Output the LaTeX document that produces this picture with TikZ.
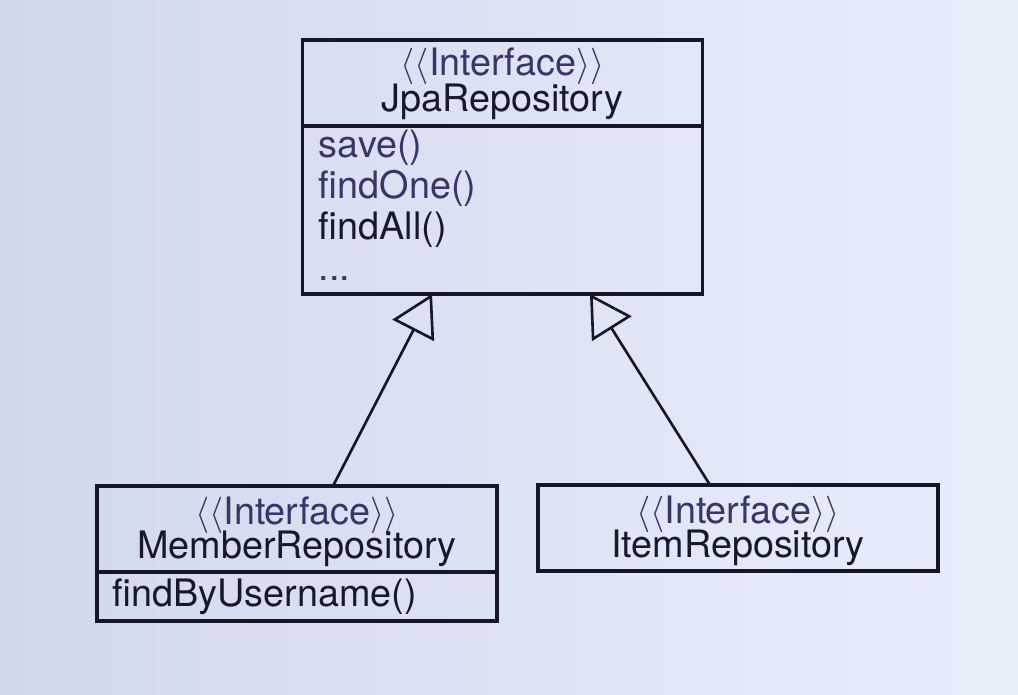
\documentclass[tikz,border=0pt]{standalone}
\usepackage{fontspec}
\setmainfont{TeX Gyre Heros}
\usepackage{tikz}
\usetikzlibrary{arrows.meta,positioning,calc}
\definecolor{bgleft}{RGB}{208,216,236}
\definecolor{bgright}{RGB}{232,239,251}
\definecolor{linecol}{RGB}{22,22,38}
\definecolor{thincol}{RGB}{52,56,104}
\definecolor{namecol}{RGB}{24,24,44}
\tikzset{
  % class head compartment
  headbox/.style={rectangle, draw=linecol, line width=1.8pt, minimum width=8cm, minimum height=1.72cm,
                  inner sep=0pt, outer sep=0pt},
  % class body compartment
  bodybox/.style={rectangle, draw=linecol, line width=1.8pt, minimum width=8cm, minimum height=#1,
                  inner sep=0pt, outer sep=0pt},
  bodybox/.default={1cm},
  % stereotype text
  stereo/.style={anchor=base, inner sep=0pt, font=\fontsize{21.5}{26}\selectfont, text=thincol},
  % interface name
  iname/.style={anchor=base, inner sep=0pt, font=\fontsize{21.5}{26}\selectfont, text=namecol},
  % method entry
  method/.style={anchor=base west, inner sep=0pt, font=\fontsize{21.5}{26}\selectfont, text=#1},
  method/.default={thincol},
  % generalization arrow
  inherit/.style={-{Triangle[open, length=0.82cm, width=0.93cm]}, line width=1.5pt, draw=linecol},
}

\begin{document}
\begin{tikzpicture}
  % background
  \shade[left color=bgleft, right color=bgright] (0,0) rectangle (20.36,13.88);
  \useasboundingbox (0,0) rectangle (20.36,13.88);
  % JpaRepository
  \node[headbox] (jpahead) at (10.05,12.22) {};
  \node[bodybox=3.36cm, below=0pt of jpahead] (jpabody) {};
  \node[stereo] (jpast) at ([yshift=-0.72cm]jpahead.north) {$\langle\langle$Interface$\rangle\rangle$};
  \node[iname] (jpaname) at ([yshift=-1.44cm]jpahead.north) {JpaRepository};
  \node[method] (msave) at ([xshift=0.32cm,yshift=-0.64cm]jpabody.north west) {save()};
  \node[method] (mfindone) at ([yshift=-0.82cm]msave.base west) {findOne()};
  \node[method=namecol] (mfindall) at ([yshift=-0.82cm]mfindone.base west) {findAll()};
  \node[method] (mdots) at ([yshift=-0.82cm]mfindall.base west) {...};
  % MemberRepository
  \node[headbox] (memberhead) at (5.94,3.30) {};
  \node[bodybox=0.98cm, below=0pt of memberhead] (memberbody) {};
  \node[stereo] (memberst) at ([yshift=-0.76cm]memberhead.north) {$\langle\langle$Interface$\rangle\rangle$};
  \node[iname] (membername) at ([yshift=-1.44cm]memberhead.north) {MemberRepository};
  \node[method=namecol] (mfindby) at ([xshift=0.3cm,yshift=-0.68cm]memberbody.north west) {findByUsername()};
  % ItemRepository
  \node[headbox] (itemhead) at (14.76,3.32) {};
  \node[stereo] (itemst) at ([yshift=-0.76cm]itemhead.north) {$\langle\langle$Interface$\rangle\rangle$};
  \node[iname] (itemname) at ([yshift=-1.44cm]itemhead.north) {ItemRepository};
  % generalizations
  \draw[inherit] ([xshift=0.72cm]memberhead.north) -- ([xshift=-1.41cm]jpabody.south);
  \draw[inherit] ([xshift=-0.56cm]itemhead.north) -- ([xshift=1.75cm]jpabody.south);
\end{tikzpicture}
\end{document}
